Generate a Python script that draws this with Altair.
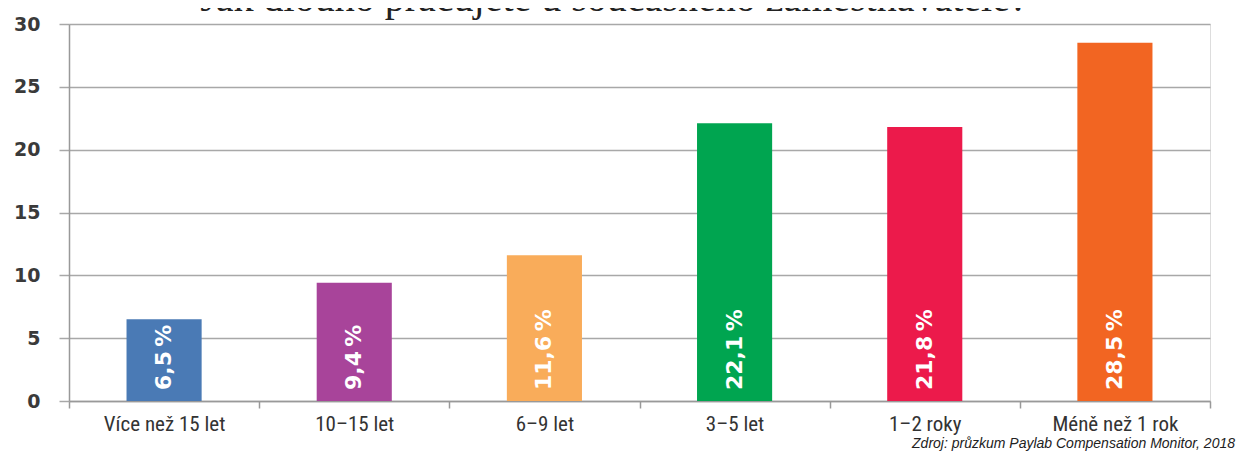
import altair as alt
import pandas as pd

categories = ["Více než 15 let", "10–15 let", "6–9 let", "3–5 let", "1–2 roky", "Méně než 1 rok"]
values = [6.5, 9.4, 11.6, 22.1, 21.8, 28.5]
labels = ["6,5\u2009%", "9,4\u2009%", "11,6\u2009%", "22,1\u2009%", "21,8\u2009%", "28,5\u2009%"]
colors = ["#4a7ab5", "#a8449a", "#f9ac5a", "#00a550", "#ec1a4b", "#f26522"]
y_ticks = [0, 5, 10, 15, 20, 25, 30]
title_text = "Jak dlouho pracujete u současného zaměstnavatele?"
source_text = "Zdroj: průzkum Paylab Compensation Monitor, 2018"

df = pd.DataFrame({"cat": categories, "val": values, "lab": labels})

W, H = 1141, 377

x = alt.X("cat:N", sort=categories, title=None,
          scale=alt.Scale(paddingInner=0, paddingOuter=0),
          axis=alt.Axis(labelAngle=0, tickBand="extent", tickSize=7, tickColor="#999999",
                        tickWidth=1.5, domainColor="#999999", domainWidth=1.5,
                        labelFont="Liberation Sans Narrow, Roboto Condensed, Liberation Sans",
                        labelFontSize=21, labelColor="#333333", labelPadding=5))
y = alt.Y("val:Q", title=None,
          scale=alt.Scale(domain=[0, 30], nice=False),
          axis=alt.Axis(values=y_ticks, grid=True, gridColor="#a8a8a8", gridWidth=1.5,
                        tickSize=10, tickColor="#a8a8a8", tickWidth=1.5,
                        domainColor="#999999", domainWidth=1.5,
                        labelFont="DejaVu Sans", labelFontWeight="bold", labelFontSize=19,
                        labelColor="#3a3a3a", labelPadding=19))

bars = alt.Chart(df).mark_bar(width=alt.RelativeBandSize(0.395)).encode(
    x=x, y=y,
    color=alt.Color("cat:N", sort=categories,
                    scale=alt.Scale(domain=categories, range=colors), legend=None),
)

text = alt.Chart(df).mark_text(angle=270, align="left", baseline="middle", dx=11,
                               font="DejaVu Sans", fontWeight="bold", fontSize=22,
                               color="white").encode(
    x=alt.X("cat:N", sort=categories),
    y=alt.datum(0),
    text="lab:N",
)

title = alt.Chart(alt.Data(values=[{}])).mark_text(
    font="Liberation Serif", fontSize=40, color="#222222", align="center", baseline="alphabetic"
).encode(x=alt.value(545), y=alt.value(-13), text=alt.value(title_text))

source = alt.Chart(alt.Data(values=[{}])).mark_text(
    font="Liberation Sans", fontStyle="italic", fontSize=14, color="#222222",
    align="right", baseline="alphabetic"
).encode(x=alt.value(1166), y=alt.value(424), text=alt.value(source_text))

chart = alt.layer(bars, text, title, source).properties(
    width=W, height=H,
    autosize=alt.AutoSizeParams(type="none"),
    padding={"left": 61, "top": 16, "right": 27, "bottom": 50},
).configure_view(stroke=None).configure(background="white")

chart.save("out.html", embed_options={"renderer": "svg", "actions": False})
